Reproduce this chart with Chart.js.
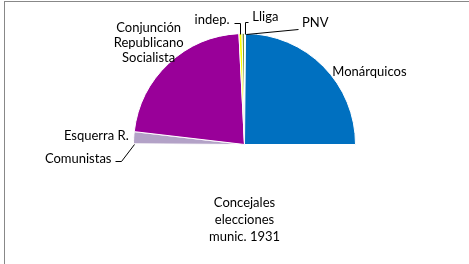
<!DOCTYPE html>
<html>
<head>
<meta charset="utf-8">
<script src="https://cdn.jsdelivr.net/npm/chart.js@4"></script>
<style>
  html, body { margin: 0; padding: 0; background: #fff; }
  #wrap { position: relative; width: 469px; height: 264px; overflow: hidden; }
  #frame { position: absolute; left: 4px; top: 1px; width: 480px; height: 280px;
           border-left: 1px solid #888; border-top: 1px solid #888; }
  canvas { position: absolute; left: 0; top: 0; }
</style>
</head>
<body>
<div id="wrap">
  <div id="frame"></div>
  <canvas id="chart" width="469" height="264"></canvas>
</div>
<script>
// Data (share of concejales)
const parties = ['Comunistas', 'Esquerra R.', 'Conjunción Republicano Socialista', 'indep.', 'Lliga', 'PNV', 'Monárquicos'];
const shares = [0.2, 3.5, 44.7, 0.9, 0.7, 0.3, 49.7];
const colors = ['#C0504D', '#B3A2C7', '#990099', '#FFFF00', '#77933C', '#4F81BD', '#0070C0'];
const titleLines = ['Concejales', 'elecciones', 'munic. 1931'];

// Label placement, relative to the point on the arc at each slice's mid angle
const labelLines = [['Comunistas'], ['Esquerra R.'], ['Conjunción', 'Republicano', 'Socialista'], ['indep.'], ['Lliga'], ['PNV'], ['Monárquicos']];
const labelPos = [
    { dx: -22, dy: 15, align: 'right', leader: [[0, 0], [-13, 17], [-19, 17]] },
    { dx: -5, dy: -2, align: 'right' },
    { dx: -20, dy: -21, align: 'center' },
    { dx: -11, dy: -14, align: 'right', leader: [[0, 0], [0, -11], [-6, -11]] },
    { dx: 9, dy: -17, align: 'left', leader: [[2, 0], [2, -12], [5, -12]] },
    { dx: 57, dy: -11, align: 'left', leader: [[1, 0], [53, -5]] },
    { dx: 9, dy: 5, align: 'left' }
];

const FONT = '13px Lato, sans-serif';

const labelPlugin = {
    id: 'halfPieLabels',
    afterDatasetsDraw(chart) {
        const ctx = chart.ctx;
        const meta = chart.getDatasetMeta(0);
        ctx.save();
        ctx.font = FONT;
        ctx.fillStyle = '#000';
        ctx.strokeStyle = '#000';
        ctx.lineWidth = 1;
        ctx.textBaseline = 'middle';
        meta.data.forEach((arc, i) => {
            const p = arc.getProps(['x', 'y', 'startAngle', 'endAngle', 'outerRadius'], true);
            const mid = (p.startAngle + p.endAngle) / 2;
            const ax = p.x + Math.cos(mid) * p.outerRadius;
            const ay = p.y + Math.sin(mid) * p.outerRadius;
            const pos = labelPos[i];
            if (pos.leader) {
                ctx.beginPath();
                pos.leader.forEach(([lx, ly], k) => {
                    const px = Math.round(ax + lx) + 0.5, py = Math.round(ay + ly) + 0.5;
                    if (k === 0) ctx.moveTo(px, py); else ctx.lineTo(px, py);
                });
                ctx.stroke();
            }
            ctx.textAlign = pos.align;
            const lines = labelLines[i];
            lines.forEach((t, k) => {
                ctx.fillText(t, ax + pos.dx, ay + pos.dy + (k - (lines.length - 1) / 2) * 15);
            });
        });
        // title below the pie
        const cx = meta.data[0].x;
        ctx.textAlign = 'center';
        titleLines.forEach((t, k) => ctx.fillText(t, cx, 203 + k * 17));
        ctx.restore();
    }
};

new Chart(document.getElementById('chart').getContext('2d'), {
    type: 'pie',
    data: {
        labels: parties,
        datasets: [{
            data: shares,
            backgroundColor: colors,
            borderColor: '#fff',
            borderWidth: 1
        }]
    },
    options: {
        responsive: false,
        animation: false,
        rotation: -90,
        circumference: 180,
        layout: { padding: { left: 133, right: 113, top: 33, bottom: 119 } },
        plugins: {
            legend: { display: false },
            tooltip: { enabled: false }
        }
    },
    plugins: [labelPlugin]
});
</script>
</body>
</html>
